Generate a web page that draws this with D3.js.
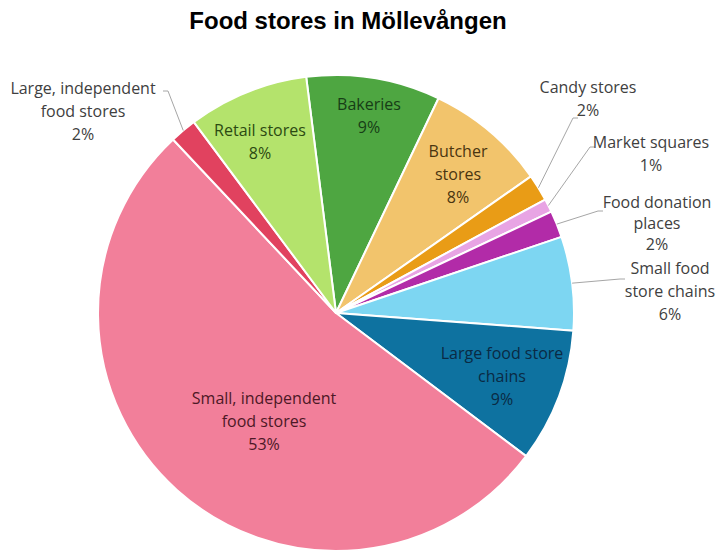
<!DOCTYPE html>
<html>
<head>
<meta charset="utf-8">
<script src="https://cdn.jsdelivr.net/npm/d3@7"></script>
<style>
  body { margin: 0; background: #fff; }
  svg { display: block; }
</style>
</head>
<body>
<svg id="chart" width="716" height="554"></svg>
<script>
// store counts, clockwise from the top
const categories = ["Bakeries", "Butcher stores", "Candy stores", "Market squares",
  "Food donation places", "Small food store chains", "Large food store chains",
  "Small, independent food stores", "Large, independent food stores", "Retail stores"];
const counts = [10, 9, 2, 1, 2, 7, 10, 58, 2, 9];
const percentLabels = ["9%", "8%", "2%", "1%", "2%", "6%", "9%", "53%", "2%", "8%"];
const labelLines = [
  ["Bakeries"], ["Butcher", "stores"], ["Candy stores"], ["Market squares"],
  ["Food donation", "places"], ["Small food", "store chains"], ["Large food store", "chains"],
  ["Small, independent", "food stores"], ["Large, independent", "food stores"], ["Retail stores"]
];
const colors = ["#4ea641", "#f2c46c", "#e99c16", "#e8a4e4", "#b22ba8", "#7dd6f2",
  "#0e72a0", "#f27f9a", "#e1425f", "#b4e36c"];
const textColors = ["#173d16", "#4a3510", "#404040", "#404040", "#404040", "#404040",
  "#0a2a44", "#4d1826", "#404040", "#2c4a12"];

// where each label sits (label centre, first baseline); outside ones get a leader
const labelPos = {
  "Bakeries": { x: 369, y: 110 },
  "Butcher stores": { x: 458, y: 157 },
  "Candy stores": { x: 588, y: 93, leader: [573, 118] },
  "Market squares": { x: 651, y: 148, leader: [590, 147] },
  "Food donation places": { x: 657, y: 208, lh: 21, leader: [598, 211] },
  "Small food store chains": { x: 670, y: 274, leader: [620, 279] },
  "Large food store chains": { x: 502, y: 359 },
  "Small, independent food stores": { x: 264, y: 404 },
  "Large, independent food stores": { x: 83, y: 94, leader: [168, 91] },
  "Retail stores": { x: 260, y: 136 }
};

const width = 716, height = 554;
const cx = 336, cy = 313, radius = 238;
const lineH = 23;

const svg = d3.select("#chart");

svg.append("text")
  .attr("x", 348)
  .attr("y", 29)
  .attr("text-anchor", "middle")
  .style("font-family", "'Liberation Sans', Arial, sans-serif")
  .style("font-weight", "bold")
  .style("font-size", "24px")
  .attr("fill", "#000")
  .text("Food stores in Möllevången");

const data = categories.map((c, i) => ({
  name: c, value: counts[i], pct: percentLabels[i], lines: labelLines[i],
  color: colors[i], textColor: textColors[i]
}));

const pie = d3.pie()
  .sort(null)
  .value(d => d.value)
  .startAngle(-7.2 * Math.PI / 180)
  .endAngle(-7.2 * Math.PI / 180 + 2 * Math.PI);

const arc = d3.arc().innerRadius(0).outerRadius(radius);

const arcs = pie(data);

const g = svg.append("g").attr("transform", `translate(${cx},${cy})`);

g.selectAll("path.slice")
  .data(arcs)
  .enter().append("path")
    .attr("class", "slice")
    .attr("d", arc)
    .attr("fill", d => d.data.color)
    .attr("stroke", "#fff")
    .attr("stroke-width", 2)
    .attr("stroke-linejoin", "round");

// leader lines for the small slices
arcs.forEach(a => {
  const p = labelPos[a.data.name];
  if (!p.leader) return;
  const mid = (a.startAngle + a.endAngle) / 2;
  const ex = cx + radius * Math.sin(mid), ey = cy - radius * Math.cos(mid);
  svg.append("polyline")
    .attr("points", `${p.leader[0] + (a.data.name.startsWith("Large, ") ? -5 : 5)},${p.leader[1]} ${p.leader[0]},${p.leader[1]} ${ex},${ey}`)
    .attr("fill", "none")
    .attr("stroke", "#a6a6a6")
    .attr("stroke-width", 1);
});

const labels = svg.append("g")
  .style("font-family", "'Open Sans', 'Noto Sans', sans-serif")
  .style("font-size", "16px")
  .attr("text-anchor", "middle");

arcs.forEach(a => {
  const p = labelPos[a.data.name];
  const t = labels.append("text")
    .attr("x", p.x)
    .attr("y", p.y)
    .attr("fill", a.data.textColor);
  a.data.lines.concat([a.data.pct]).forEach((line, i) => {
    t.append("tspan")
      .attr("x", p.x)
      .attr("dy", i === 0 ? 0 : (p.lh || lineH))
      .text(line);
  });
});
</script>
</body>
</html>
